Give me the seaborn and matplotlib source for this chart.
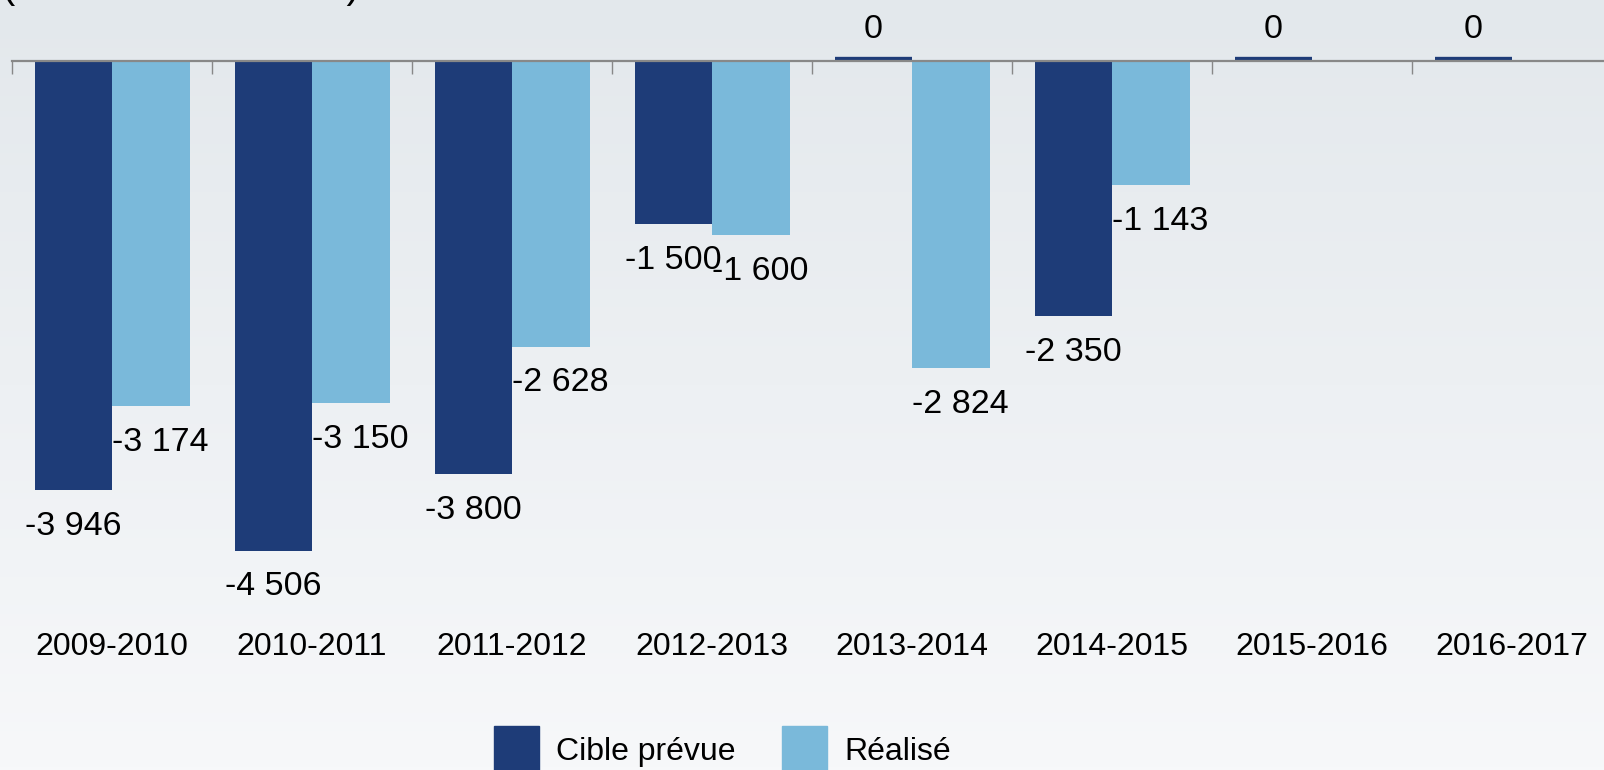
import numpy as np
import pandas as pd
import matplotlib
matplotlib.use("Agg")
import matplotlib.pyplot as plt
from matplotlib.transforms import Bbox, TransformedBbox
import seaborn as sns

periodes = ["2009-2010", "2010-2011", "2011-2012", "2012-2013",
            "2013-2014", "2014-2015", "2015-2016", "2016-2017"]
cible = [-3946, -4506, -3800, -1500, 0, -2350, 0, 0]
realise = [-3174, -3150, -2628, -1600, -2824, -1143, np.nan, np.nan]
series = ["Cible prévue", "Réalisé"]
couleurs = ["#1e3c78", "#7ab9da"]

df = pd.DataFrame({
    "periode": periodes * 2,
    "serie": [series[0]] * len(periodes) + [series[1]] * len(periodes),
    "valeur": cible + realise,
})

sns.set_style("white")
plt.rcParams["font.family"] = ["Liberation Sans", "DejaVu Sans"]
plt.rcParams["text.color"] = "black"
plt.rcParams["xtick.color"] = "black"

W, H = 1604, 770
fig = plt.figure(figsize=(W / 100, H / 100), dpi=100)

# fond en degrade vertical
bg = fig.add_axes([0, 0, 1, 1], zorder=-10)
grad = np.linspace(0, 1, 256)[:, None]
top = np.array([0xe3, 0xe8, 0xec]) / 255
bot = np.array([0xf7, 0xf8, 0xfa]) / 255
img = top[None, None, :] * (1 - grad[..., None]) + bot[None, None, :] * grad[..., None]
bg.imshow(img, aspect="auto", extent=[0, 1, 0, 1])
bg.axis("off")

# axe principal : zero a 61 px du haut, 0.1087 px par unite
px_unit = 0.1087
ax_bottom_px = 625
ax = fig.add_axes([12 / W, 1 - ax_bottom_px / H, 1600 / W, ax_bottom_px / H])
ax.set_facecolor("none")

sns.barplot(data=df, x="periode", y="valeur", hue="serie", order=periodes,
            hue_order=series, palette=couleurs, width=0.775, saturation=1,
            linewidth=0, ax=ax, legend=False)
ax.set_xlim(-0.5, len(periodes) - 0.5)
ax.set_ylim(-(ax_bottom_px - 61) / px_unit, 61 / px_unit)

for sp in ["left", "right", "bottom"]:
    ax.spines[sp].set_visible(False)
ax.spines["top"].set_position(("data", 0))
ax.spines["top"].set_color("#888888")
ax.spines["top"].set_linewidth(1.6)
ax.spines["top"].set_zorder(5)

ax.set_xticks(np.arange(len(periodes) + 1) - 0.5)
ax.set_xticks(np.arange(len(periodes)), minor=True)
ax.set_xticklabels(periodes, minor=True)
ax.tick_params(axis="x", which="major", top=True, bottom=False, direction="in",
               length=9, width=1.0, color="#888888", labelbottom=False, labeltop=False)
ax.tick_params(axis="x", which="minor", top=False, bottom=True, length=0,
               labelbottom=True, labelsize=23, pad=5, labelcolor="black")
ax.set_yticks([])
ax.set_xlabel("")
ax.set_ylabel("")

# zone au-dessus de zero, pour les barres nulles
ylo, yhi = ax.get_ylim()
au_dessus = TransformedBbox(Bbox([[-0.5, 0], [len(periodes) - 0.5, yhi]]), ax.transData)

# etiquettes de valeurs
dx_serie = [0, 7]
for k, cont in enumerate(ax.containers):
    for bar in cont:
        h = bar.get_height()
        if np.isnan(h):
            continue
        xc = bar.get_x() + bar.get_width() / 2
        if h == 0:
            bar.set_edgecolor(couleurs[k])
            bar.set_linewidth(6)
            bar.set_joinstyle("miter")
            bar.set_clip_box(au_dessus)
            ax.annotate("0", (xc, h), xytext=(0, 23), textcoords="offset points",
                        ha="center", va="center", fontsize=24.5)
        else:
            txt = f"{h:,.0f}".replace(",", " ")
            ax.annotate(txt, (xc, h), xytext=(dx_serie[k], -26),
                        textcoords="offset points", ha="center", va="center",
                        fontsize=24.5)

# sous-titre coupe en haut
fig.text(2 / W, 1 + 2 / H, "(en nombre d'ETPT)", fontsize=28.5,
         ha="left", va="baseline")

handles = [plt.Rectangle((0, 0), 1, 1, color=c) for c in couleurs]
fig.legend(handles, series, loc="upper left", bbox_to_anchor=(494 / W, 1 - 726 / H),
           frameon=False, ncol=2, fontsize=23, handlelength=1.4, handleheight=1.9,
           handletextpad=0.55, columnspacing=1.45, borderpad=0, borderaxespad=0)

fig.savefig("out.png", dpi=100)
